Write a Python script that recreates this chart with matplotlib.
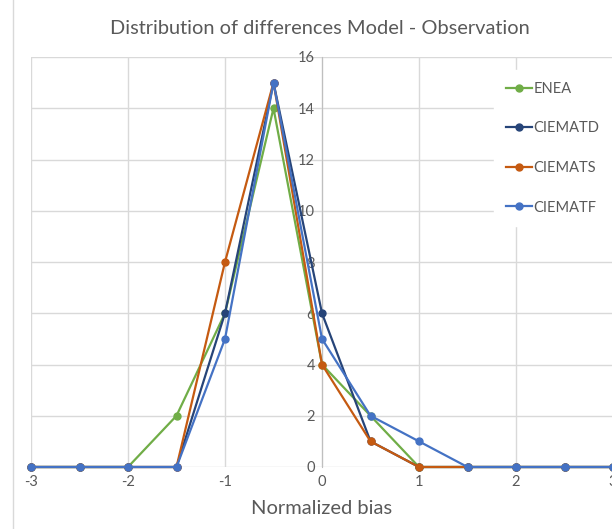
import matplotlib
matplotlib.use("Agg")
import matplotlib.pyplot as plt
from matplotlib.lines import Line2D

x_values = [-3, -2.5, -2, -1.5, -1, -0.5, 0, 0.5, 1, 1.5, 2, 2.5, 3]
enea     = [0, 0, 0, 2, 6, 14, 4, 2, 0, 0, 0, 0, 0]
ciematd  = [0, 0, 0, 0, 6, 15, 6, 1, 0, 0, 0, 0, 0]
ciemats  = [0, 0, 0, 0, 8, 15, 4, 1, 0, 0, 0, 0, 0]
ciematf  = [0, 0, 0, 0, 5, 15, 5, 2, 1, 0, 0, 0, 0]
series_names = ["ENEA", "CIEMATD", "CIEMATS", "CIEMATF"]
colors = ["#70AD47", "#264478", "#C55A11", "#4472C4"]

title = "Distribution of differences Model - Observation"
xlabel = "Normalized bias"
xticks = [-3, -2, -1, 0, 1, 2, 3]
yticks = [0, 2, 4, 6, 8, 10, 12, 14, 16]

plt.rcParams['font.family'] = ['Lato', 'DejaVu Sans']
plt.rcParams['axes.unicode_minus'] = False
W, H = 612, 529
fig = plt.figure(figsize=(W / 100, H / 100), dpi=100)
# x=-3 at px 31, x=3 at px 613 ; y=0 at px 467, y=16 at px 57
left = 31 / W
width = (613 - 31) / W
bottom = (H - 467) / H
height = (467 - 57) / H
ax = fig.add_axes([left, bottom, width, height])
ax.set_xlim(-3, 3)
ax.set_ylim(0, 16)

grid_c = "#D9D9D9"
text_c = "#595959"
for xv in xticks:
    ax.axvline(xv, color=grid_c, lw=1, zorder=0)
for yv in yticks:
    ax.axhline(yv, color=grid_c, lw=1, zorder=0)

for name, vals, c in zip(series_names, [enea, ciematd, ciemats, ciematf], colors):
    ax.plot(x_values, vals, color=c, lw=1.6, marker='o', markersize=5,
            label=name, zorder=3, clip_on=False)

for s in ['top', 'right', 'bottom']:
    ax.spines[s].set_visible(False)
ax.spines['left'].set_position(('data', 0))
ax.spines['left'].set_color("#BFBFBF")
ax.spines['left'].set_zorder(1)
ax.set_xticks(xticks)
ax.set_yticks(yticks)
ax.tick_params(axis='both', length=0, colors=text_c, labelsize=10.5)
ax.tick_params(axis='y', pad=5)
ax.tick_params(axis='x', pad=6)
for lbl in ax.get_yticklabels():
    lbl.set_zorder(2)

ax.set_xlabel(xlabel, fontsize=14.5, color=text_c, labelpad=8)
fig.text(320 / W, 1 - 29 / H, title, ha='center', va='center',
         fontsize=14.4, color=text_c)

leg = ax.legend(loc='upper left', bbox_to_anchor=(487 / W, 1 - 63 / H),
                bbox_transform=fig.transFigure, frameon=True, fontsize=10.5,
                labelspacing=1.75, handlelength=1.8, handletextpad=0.1,
                borderpad=0.8, facecolor='white', edgecolor='white',
                framealpha=1, labelcolor=text_c)
leg.set_zorder(5)

fig.add_artist(Line2D([13 / W, 13 / W], [0, 1], color="#D9D9D9", lw=1,
                      transform=fig.transFigure))

fig.savefig("out.png", dpi=100, facecolor='white')
